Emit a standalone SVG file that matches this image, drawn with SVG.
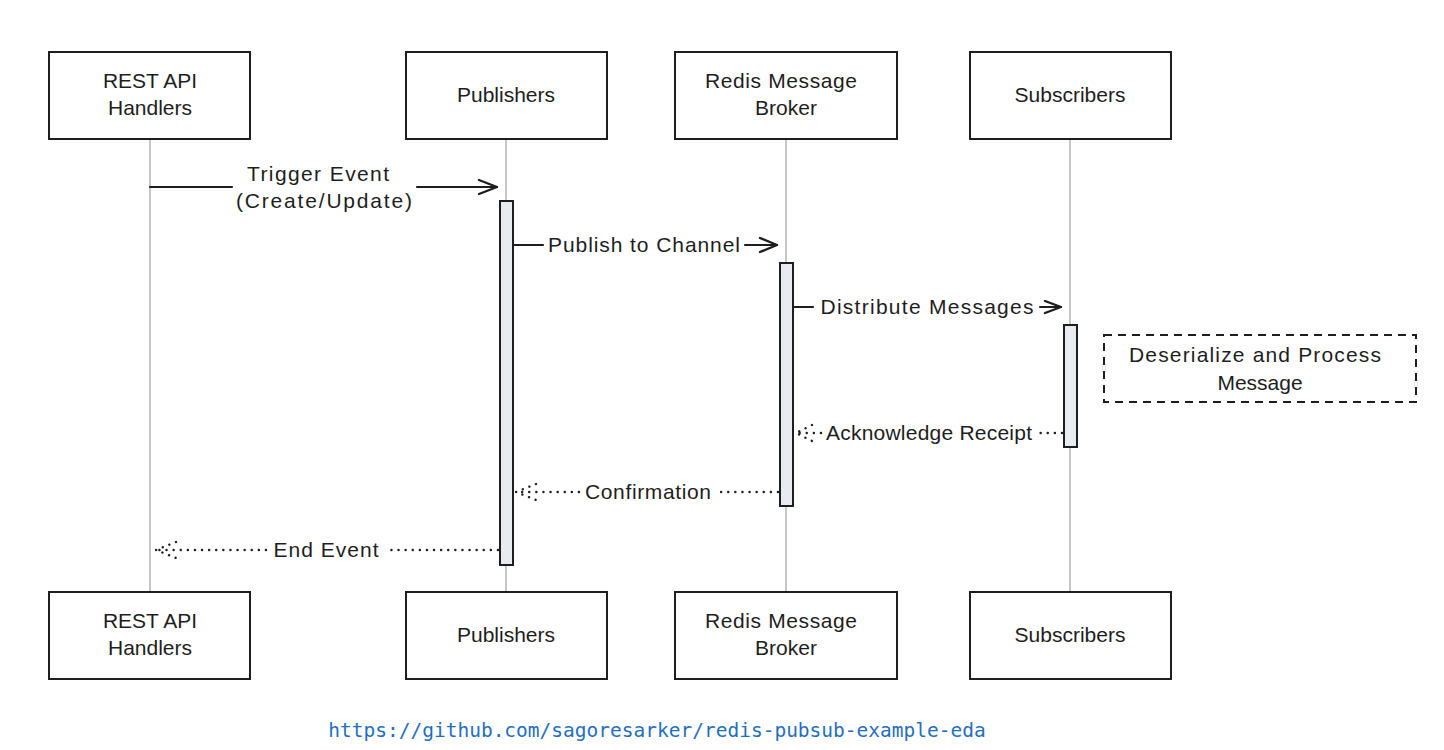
<svg xmlns="http://www.w3.org/2000/svg" width="1444" height="750" viewBox="0 0 1444 750">
<style>
.box{fill:#fff;stroke:#1e1e1e;stroke-width:2}
.life{stroke:#a0a0a0;stroke-width:1.2;fill:none}
.act{fill:#e8ecf0;stroke:#1e1e1e;stroke-width:2}
.msg{stroke:#1e1e1e;stroke-width:2.2;fill:none;stroke-linecap:round}
.ret{stroke:#1e1e1e;stroke-width:2.4;fill:none;stroke-linecap:round;stroke-dasharray:0.1 7}
.head{stroke:#1e1e1e;stroke-width:2.4;fill:none;stroke-linecap:round;stroke-linejoin:round}
.note{fill:#fff;stroke:#1e1e1e;stroke-width:2;stroke-dasharray:8 6}
text{font-family:"Liberation Sans","DejaVu Sans",sans-serif;font-size:21px;fill:#1e1e1e;text-anchor:middle}
.url{font-family:"DejaVu Sans Mono","Liberation Mono",monospace;font-size:19.5px;fill:#1f6fc1}
</style>
<rect width="1444" height="750" fill="#fff"/>
<g id="lifelines">
<line class="life" x1="150" y1="139" x2="150" y2="592"/>
<line class="life" x1="506" y1="139" x2="506" y2="592"/>
<line class="life" x1="786" y1="139" x2="786" y2="592"/>
<line class="life" x1="1070" y1="139" x2="1070" y2="592"/>
</g>
<g id="actor-rest-top"><rect class="box" x="49" y="52" width="201" height="87"/><text x="150" y="88">REST API</text><text x="150" y="115">Handlers</text></g>
<g id="actor-pub-top"><rect class="box" x="406" y="52" width="201" height="87"/><text x="506" y="102">Publishers</text></g>
<g id="actor-redis-top"><rect class="box" x="675" y="52" width="222" height="87"/><text x="781" y="88" textLength="152" lengthAdjust="spacing">Redis Message</text><text x="786" y="115">Broker</text></g>
<g id="actor-sub-top"><rect class="box" x="970" y="52" width="201" height="87"/><text x="1070" y="102">Subscribers</text></g>
<g id="actor-rest-bottom"><rect class="box" x="49" y="592" width="201" height="87"/><text x="150" y="628">REST API</text><text x="150" y="655">Handlers</text></g>
<g id="actor-pub-bottom"><rect class="box" x="406" y="592" width="201" height="87"/><text x="506" y="642">Publishers</text></g>
<g id="actor-redis-bottom"><rect class="box" x="675" y="592" width="222" height="87"/><text x="781" y="628" textLength="152" lengthAdjust="spacing">Redis Message</text><text x="786" y="655">Broker</text></g>
<g id="actor-sub-bottom"><rect class="box" x="970" y="592" width="201" height="87"/><text x="1070" y="642">Subscribers</text></g>
<g id="activations">
<rect class="act" x="500" y="201" width="13" height="364"/>
<rect class="act" x="780" y="263" width="13" height="243"/>
<rect class="act" x="1064" y="325" width="13" height="122"/>
</g>
<g id="note"><rect class="note" x="1104" y="335" width="312" height="67"/><text x="1255" y="362" textLength="252" lengthAdjust="spacing">Deserialize and Process</text><text x="1260" y="390">Message</text></g>
<g id="connectors">
<line class="msg" x1="150" y1="187" x2="232" y2="187"/>
<line class="msg" x1="417" y1="187" x2="497" y2="187"/>
<polyline class="head" points="479,180 497,187 479,194"/>
<text x="318" y="181" textLength="142" lengthAdjust="spacing">Trigger Event</text>
<text x="324" y="208" textLength="176" lengthAdjust="spacing">(Create/Update)</text>

<line class="msg" x1="513" y1="245" x2="543" y2="245"/>
<line class="msg" x1="745" y1="245" x2="777" y2="245"/>
<polyline class="head" points="760,238 777,245 760,252"/>
<text x="644" y="252" textLength="192" lengthAdjust="spacing">Publish to Channel</text>

<line class="msg" x1="793" y1="307" x2="813" y2="307"/>
<line class="msg" x1="1040" y1="307" x2="1061" y2="307"/>
<polyline class="head" points="1045,301 1061,307 1045,313"/>
<text x="927" y="314" textLength="213" lengthAdjust="spacing">Distribute Messages</text>

<line class="ret" x1="1062" y1="433" x2="1040" y2="433"/>
<line class="ret" x1="821" y1="433" x2="796" y2="433"/>
<polyline class="ret" points="812,425 796,433 812,441"/>
<text x="929" y="440" textLength="206" lengthAdjust="spacing">Acknowledge Receipt</text>

<line class="ret" x1="778" y1="492" x2="716" y2="492"/>
<line class="ret" x1="579" y1="492" x2="516" y2="492"/>
<polyline class="ret" points="536,484 516,492 536,500"/>
<text x="648" y="499" textLength="126" lengthAdjust="spacing">Confirmation</text>

<line class="ret" x1="498" y1="550" x2="386" y2="550"/>
<line class="ret" x1="266" y1="550" x2="156" y2="550"/>
<polyline class="ret" points="176,542 156,550 176,558"/>
<text x="326" y="557" textLength="105" lengthAdjust="spacing">End Event</text>
</g>
<text class="url" x="657" y="737">https://github.com/sagoresarker/redis-pubsub-example-eda</text>
</svg>
